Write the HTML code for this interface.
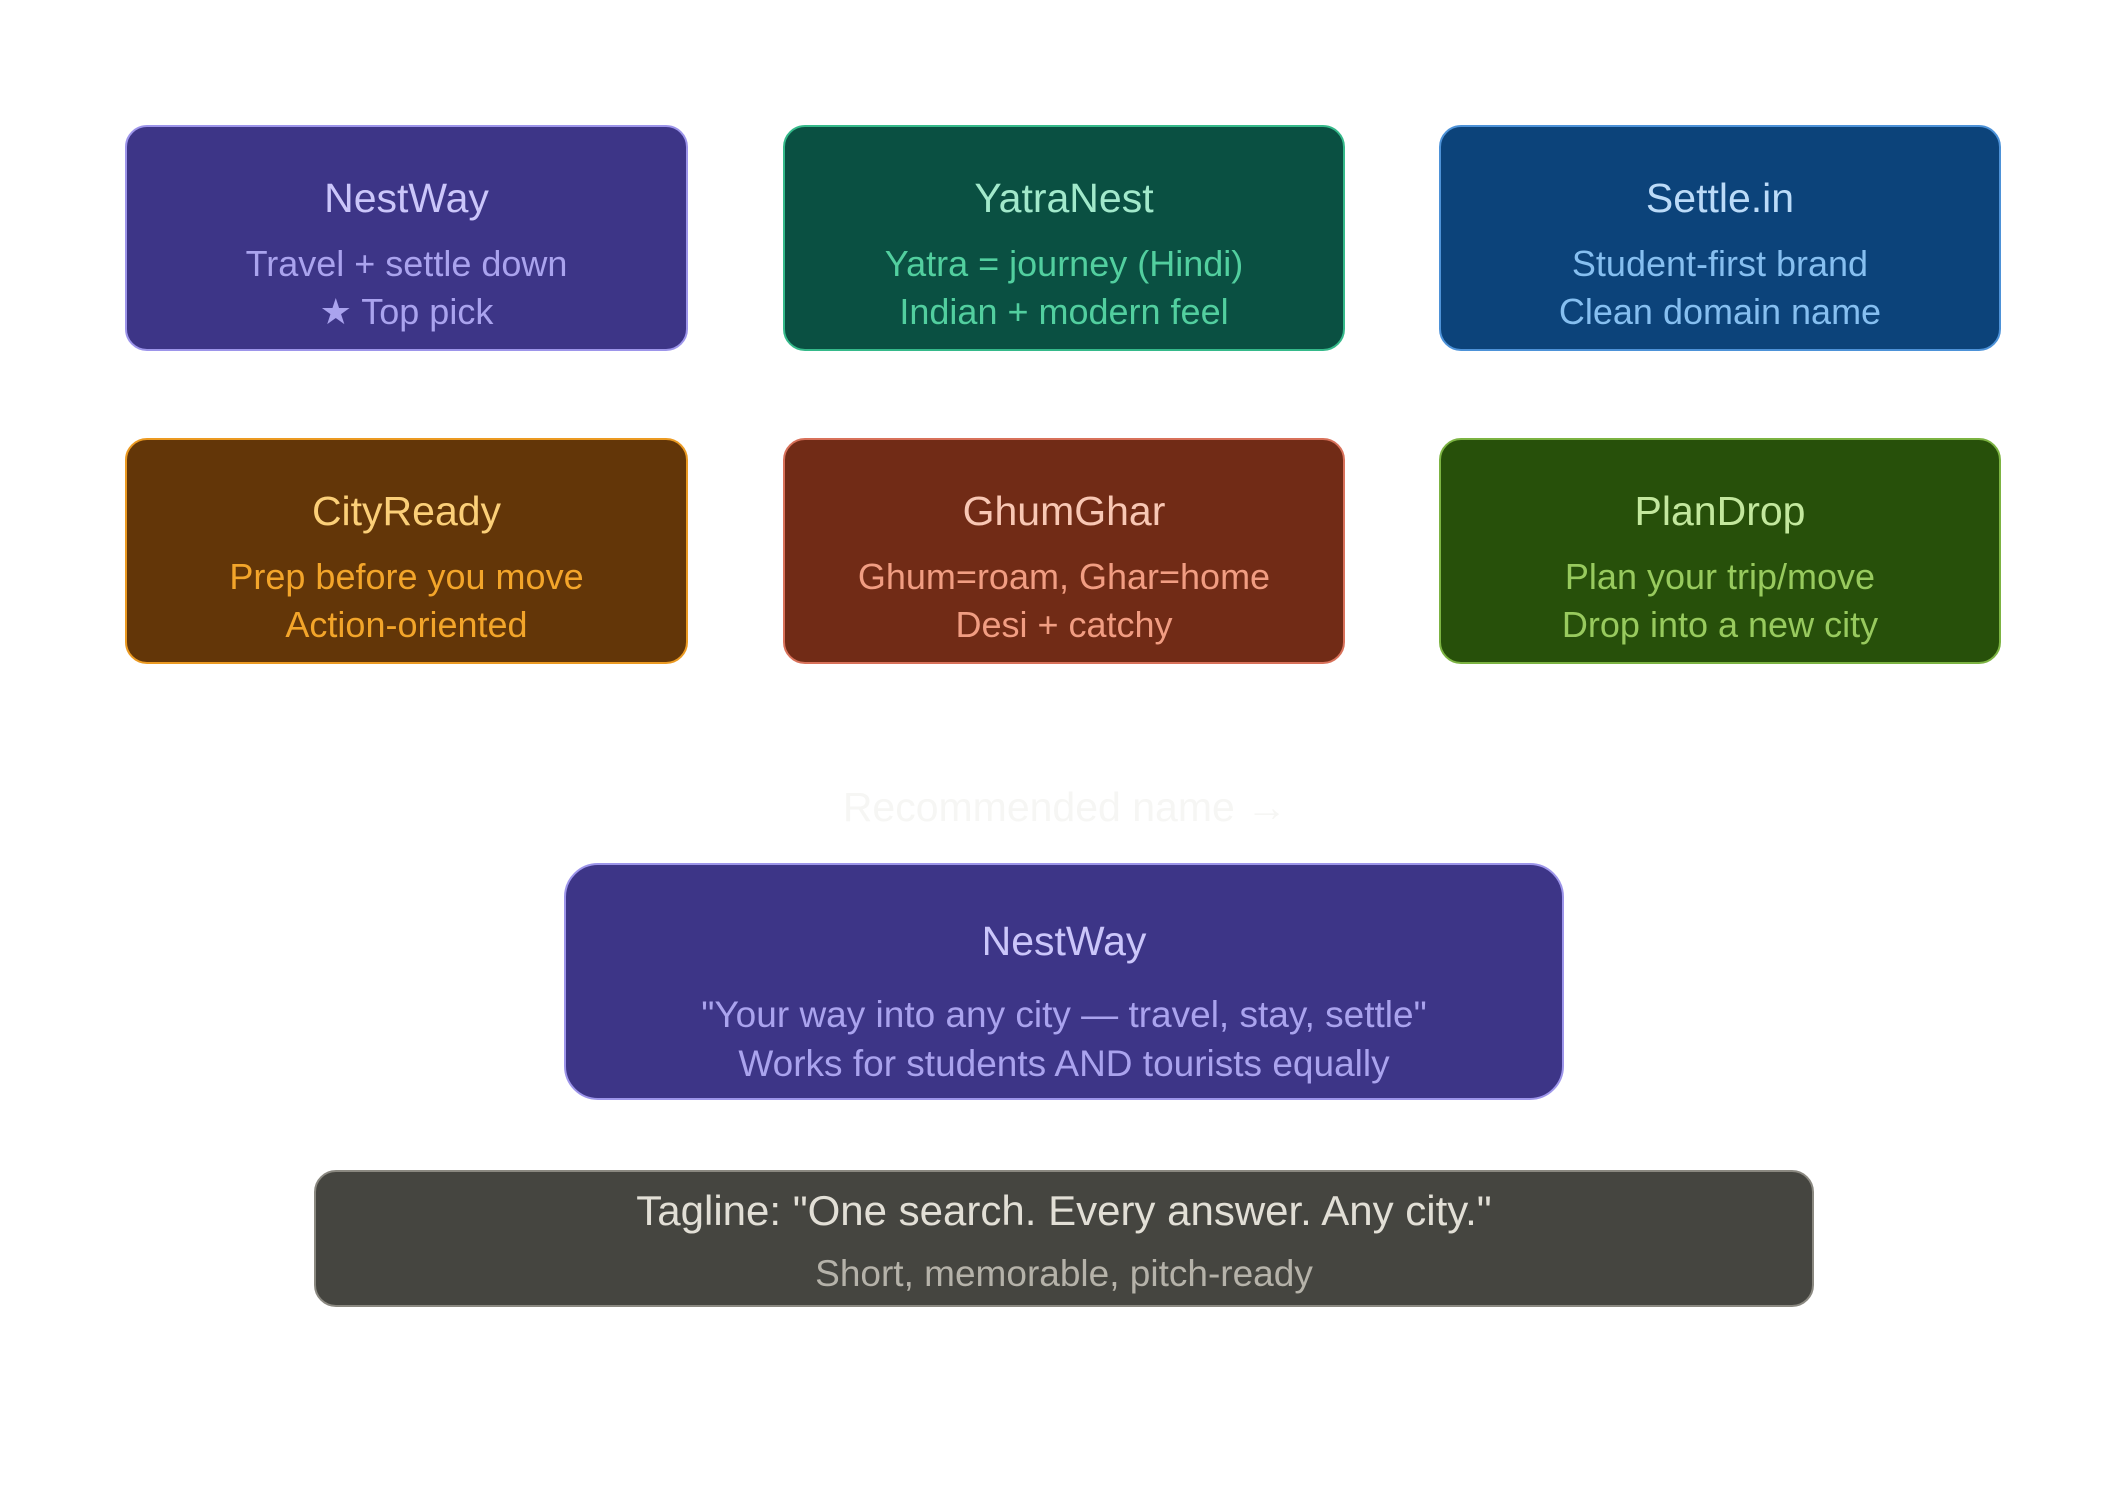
<!DOCTYPE html>
<html><head><meta charset="utf-8"><style>
body{margin:0;width:2125px;height:1500px;background:#fff;position:relative;font-family:"Liberation Sans",sans-serif;overflow:hidden}
.b{position:absolute;box-sizing:border-box;border:2px solid;border-radius:22px}
.t{position:absolute;left:0;right:0;text-align:center;white-space:nowrap;line-height:1}
</style></head><body>

<div class="b" style="left:125px;top:125px;width:563px;height:226px;background:#3d3587;border-color:#9d95ea"></div>
<div class="t" style="left:125px;width:563px;top:178px;font-size:41px;color:#cbc6fa">NestWay</div>
<div class="t" style="left:125px;width:563px;top:246px;font-size:36px;color:#aaa3ee">Travel + settle down</div>
<div class="t" style="left:125px;width:563px;top:294px;font-size:36px;color:#aaa3ee">★ Top pick</div>

<div class="b" style="left:783px;top:125px;width:562px;height:226px;background:#0a5042;border-color:#35b98a"></div>
<div class="t" style="left:783px;width:562px;top:178px;font-size:41px;color:#a2e9cb">YatraNest</div>
<div class="t" style="left:783px;width:562px;top:246px;font-size:36px;color:#52cf9f">Yatra = journey (Hindi)</div>
<div class="t" style="left:783px;width:562px;top:294px;font-size:36px;color:#52cf9f">Indian + modern feel</div>

<div class="b" style="left:1439px;top:125px;width:562px;height:226px;background:#0c437a;border-color:#4d92d8"></div>
<div class="t" style="left:1439px;width:562px;top:178px;font-size:41px;color:#bcdbf8">Settle.in</div>
<div class="t" style="left:1439px;width:562px;top:246px;font-size:36px;color:#86bff0">Student-first brand</div>
<div class="t" style="left:1439px;width:562px;top:294px;font-size:36px;color:#86bff0">Clean domain name</div>

<div class="b" style="left:125px;top:438px;width:563px;height:226px;background:#633608;border-color:#eb9a22"></div>
<div class="t" style="left:125px;width:563px;top:491px;font-size:41px;color:#fbcf78">CityReady</div>
<div class="t" style="left:125px;width:563px;top:559px;font-size:36px;color:#f3a52a">Prep before you move</div>
<div class="t" style="left:125px;width:563px;top:607px;font-size:36px;color:#f3a52a">Action-oriented</div>

<div class="b" style="left:783px;top:438px;width:562px;height:226px;background:#712b16;border-color:#d8715a"></div>
<div class="t" style="left:783px;width:562px;top:491px;font-size:41px;color:#f8c7b4">GhumGhar</div>
<div class="t" style="left:783px;width:562px;top:559px;font-size:36px;color:#f19d82">Ghum=roam, Ghar=home</div>
<div class="t" style="left:783px;width:562px;top:607px;font-size:36px;color:#f19d82">Desi + catchy</div>

<div class="b" style="left:1439px;top:438px;width:562px;height:226px;background:#27500a;border-color:#7cb342"></div>
<div class="t" style="left:1439px;width:562px;top:491px;font-size:41px;color:#c3e89e">PlanDrop</div>
<div class="t" style="left:1439px;width:562px;top:559px;font-size:36px;color:#98ca5e">Plan your trip/move</div>
<div class="t" style="left:1439px;width:562px;top:607px;font-size:36px;color:#98ca5e">Drop into a new city</div>

<div class="t" style="left:0;width:2130px;top:787px;font-size:41px;color:#f6f6f4">Recommended name →</div>

<div class="b" style="left:564px;top:863px;width:1000px;height:237px;background:#3d3587;border-color:#9d95ea;border-radius:34px"></div>
<div class="t" style="left:564px;width:1000px;top:921px;font-size:41px;color:#cbc6fa">NestWay</div>
<div class="t" style="left:564px;width:1000px;top:996px;font-size:37px;color:#aaa3ee">"Your way into any city — travel, stay, settle"</div>
<div class="t" style="left:564px;width:1000px;top:1045px;font-size:37px;color:#aaa3ee">Works for students AND tourists equally</div>

<div class="b" style="left:314px;top:1170px;width:1500px;height:137px;background:#454540;border-color:#8a8880"></div>
<div class="t" style="left:314px;width:1500px;top:1190px;font-size:42px;color:#e2dfd6">Tagline: "One search. Every answer. Any city."</div>
<div class="t" style="left:314px;width:1500px;top:1255px;font-size:37px;color:#b5b2a9">Short, memorable, pitch-ready</div>

</body></html>
